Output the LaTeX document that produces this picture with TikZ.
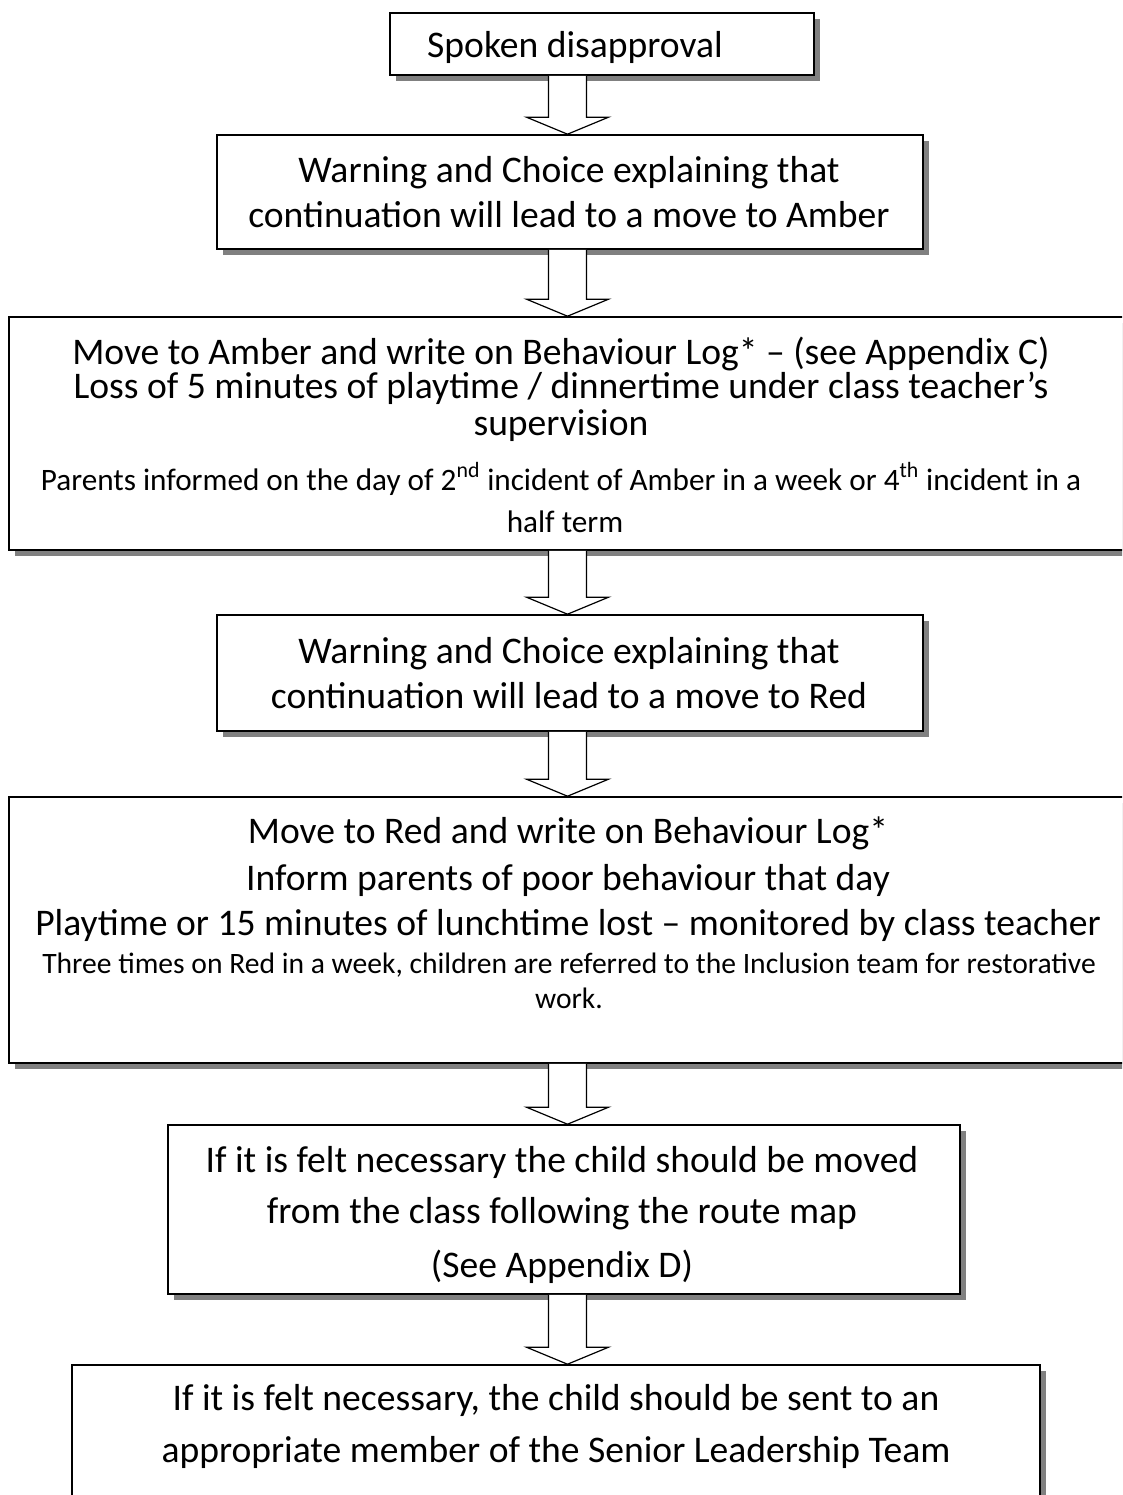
\documentclass[tikz,border=0pt]{standalone}
\usepackage{fontspec}
\setmainfont{Carlito}
\usetikzlibrary{shadows,fit,calc}
\begin{document}
\begin{tikzpicture}[x=0.75pt,y=-0.75pt,
  box/.style={draw=black, fill=white, line width=1.2pt, inner sep=0pt,
    drop shadow={shadow xshift=4.5pt, shadow yshift=-4.5pt, fill=black!50, opacity=1}},
  lg/.style={anchor=base, inner sep=0pt, font=\fontsize{28.2}{33}\selectfont},
  sm/.style={anchor=base, inner sep=0pt, font=\fontsize{22.2}{27}\selectfont},
  smb/.style={anchor=base, inner sep=0pt, font=\fontsize{23.4}{28}\selectfont},
  barrow/.style={draw=black, fill=white, line width=0.9pt, line join=miter}]
\clip (0,0) rectangle (1122,1495);
\fill[white] (0,0) rectangle (1122,1495);
\coordinate (ax) at (567.5,0);

% boxes
\node[box, fit={(390,13) (814,75)}] (b1) {};
\node[box, fit={(217,135) (923,249)}] (b2) {};
\node[box, fit={(9,317) (1132,550)}] (b3) {};
\node[box, fit={(217,615) (923,731)}] (b4) {};
\node[box, fit={(9,797) (1132,1063)}] (b5) {};
\node[box, fit={(168,1125) (960,1294)}] (b6) {};
\node[box, fit={(72,1365) (1040,1520)}] (b7) {};

% texts
\node[lg] (t1) at (575,58) {Spoken disapproval};

\node[lg] (t2a) at (569,182) {Warning and Choice explaining that};
\node[lg] (t2b) at (569,227) {continuation will lead to a move to Amber};

\node[lg] (t3a) at (561,364) {Move to Amber and write on Behaviour Log* – (see Appendix C)};
\node[lg] (t3b) at (561,398) {Loss of 5 minutes of playtime / dinnertime under class teacher’s};
\node[lg] (t3c) at (561,435) {supervision};
\node[smb] (t3d) at (561,490) {Parents informed on the day of 2\textsuperscript{nd} incident of Amber in a week or 4\textsuperscript{th} incident in a};
\node[smb] (t3e) at (565,532) {half term};

\node[lg] (t4a) at (569,663) {Warning and Choice explaining that};
\node[lg] (t4b) at (569,708) {continuation will lead to a move to Red};

\node[lg] (t5a) at (568,843) {Move to Red and write on Behaviour Log*};
\node[lg] (t5b) at (568,890) {Inform parents of poor behaviour that day};
\node[lg] (t5c) at (568,935) {Playtime or 15 minutes of lunchtime lost – monitored by class teacher};
\node[sm] (t5d) at (569,973) {Three times on Red in a week, children are referred to the Inclusion team for restorative};
\node[sm] (t5e) at (569,1008) {work.};

\node[lg] (t6a) at (562,1172) {If it is felt necessary the child should be moved};
\node[lg] (t6b) at (562,1223) {from the class following the route map};
\node[lg] (t6c) at (562,1277) {(See Appendix D)};

\node[lg] (t7a) at (556,1410) {If it is felt necessary, the child should be sent to an};
\node[lg] (t7b) at (556,1462) {appropriate member of the Senior Leadership Team};

% block arrows
\foreach \a/\b in {b1/b2, b2/b3, b3/b4, b4/b5, b5/b6, b6/b7}{
  \draw[barrow] ($(\a.south -| ax)+(-19,0)$) -- ($(\b.north -| ax)+(-19,-17)$)
    -- ($(\b.north -| ax)+(-41,-17)$) -- (\b.north -| ax)
    -- ($(\b.north -| ax)+(41,-17)$) -- ($(\b.north -| ax)+(19,-17)$)
    -- ($(\a.south -| ax)+(19,0)$);
}
\end{tikzpicture}
\end{document}
